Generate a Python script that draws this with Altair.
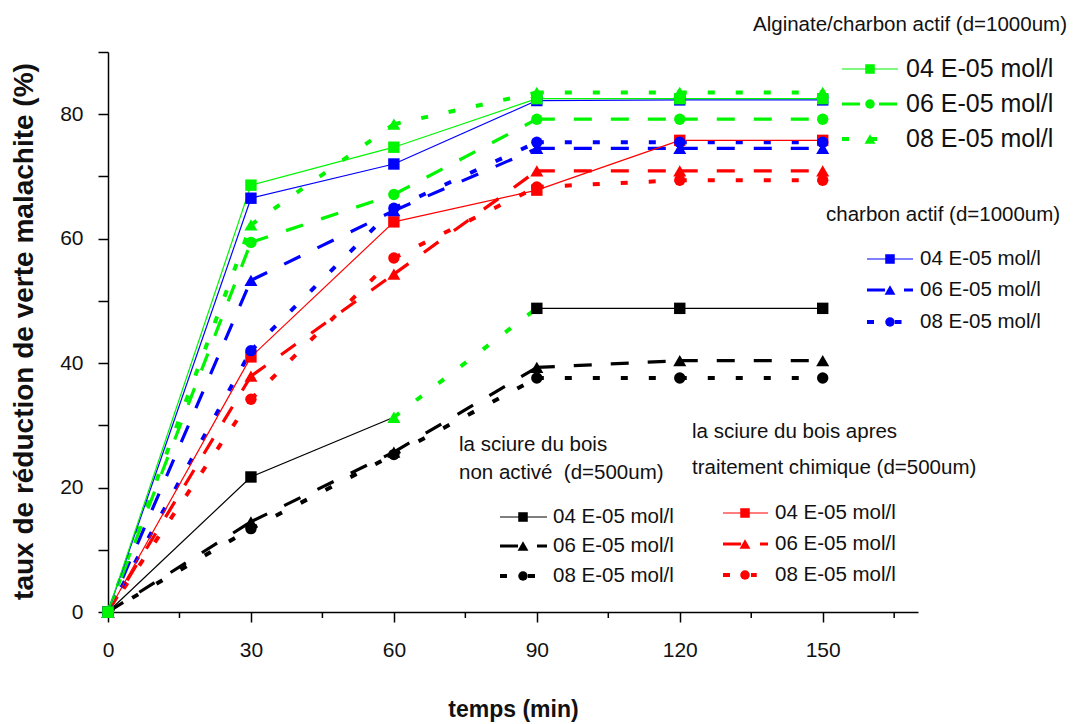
import altair as alt
import pandas as pd

# ---------------- data ----------------
time_min = [0, 30, 60, 90, 120, 150]

alginate_04 = [0, 68.6, 74.7, 82.5, 82.5, 82.5]
alginate_06 = [0, 59.4, 67.1, 79.2, 79.2, 79.2]
alginate_08 = [0, 62.2, 78.4, 83.5, 83.5, 83.5]

charbon_04 = [0, 66.5, 72.0, 82.2, 82.3, 82.3]
charbon_06 = [0, 53.3, 64.5, 74.5, 74.5, 74.5]
charbon_08 = [0, 42.0, 64.9, 75.5, 75.5, 75.5]

traite_04 = [0, 41.0, 62.7, 67.8, 75.8, 75.8]
traite_06 = [0, 37.9, 54.3, 70.9, 70.9, 70.9]
traite_08 = [0, 34.2, 56.9, 68.3, 69.4, 69.4]

nonactive_04 = [0, 21.7, 31.3, 48.8, 48.8, 48.8]
nonactive_06 = [0, 14.5, 25.7, 39.3, 40.4, 40.4]
nonactive_08 = [0, 13.4, 25.3, 37.6, 37.6, 37.6]

conc_labels = ["04 E-05 mol/l", "06 E-05 mol/l", "08 E-05 mol/l"]
x_major = [0, 30, 60, 90, 120, 150]
x_minor = [15, 45, 75, 105, 135, 165]
y_ticks = [0, 10, 20, 30, 40, 50, 60, 70, 80, 90]

# ---------------- styles ----------------
GREEN, BLUE, RED, BLACK = "#00f500", "#0000ff", "#ff0000", "#000000"
FONT = "Liberation Sans, Arial"
TXT = "#111111"
STYLES = {
    "solid": dict(strokeWidth=1.2),
    "dash": dict(strokeWidth=3.2, strokeDash=[18, 19]),
    "dot": dict(strokeWidth=4, strokeDash=[7, 21]),
}
MSIZE = {"square": 130, "circle": 130, "triangle-up": 170}

# drawing order: black, red, blue, green (green on top)
series = [
    ("nonactive_04", nonactive_04, BLACK, "solid", "square"),
    ("nonactive_06", nonactive_06, BLACK, "dash", "triangle-up"),
    ("nonactive_08", nonactive_08, BLACK, "dot", "circle"),
    ("traite_04", traite_04, RED, "solid", "square"),
    ("traite_06", traite_06, RED, "dash", "triangle-up"),
    ("traite_08", traite_08, RED, "dot", "circle"),
    ("charbon_04", charbon_04, BLUE, "solid", "square"),
    ("charbon_06", charbon_06, BLUE, "dash", "triangle-up"),
    ("charbon_08", charbon_08, BLUE, "dot", "circle"),
    ("alginate_04", alginate_04, GREEN, "solid", "square"),
    ("alginate_06", alginate_06, GREEN, "dash", "circle"),
    ("alginate_08", alginate_08, GREEN, "dot", "triangle-up"),
]
# quirk of the original figure: on the black 04 curve the 60 min point is a
# green triangle and the 60->90 min segment is drawn green dotted
seg_override = {("nonactive_04", 2): (GREEN, "dot")}
pt_override = {("nonactive_04", 2): (GREEN, "triangle-up")}

seg_rows, pt_rows = [], []
k = 0
for name, vals, col, sty, shp in series:
    for i in range(len(time_min) - 1):
        c, s = seg_override.get((name, i), (col, sty))
        for j in (i, i + 1):
            seg_rows.append(dict(t=time_min[j], v=vals[j], seg=f"{k:03d}", color=c, style=s))
        k += 1
    for i, (t, v) in enumerate(zip(time_min, vals)):
        c, s = pt_override.get((name, i), (col, shp))
        pt_rows.append(dict(t=t, v=v, color=c, shape=s, msize=MSIZE[s]))
seg_df = pd.DataFrame(seg_rows)
pt_df = pd.DataFrame(pt_rows)

W, H = 810, 560
xs = alt.Scale(domain=[0, 170], nice=False, zero=True)
ys = alt.Scale(domain=[0, 90], nice=False, zero=True)
# pixel scales for the hand-placed legends
pxs = alt.Scale(domain=[0, W], range=[0, W], nice=False, zero=False)
pys = alt.Scale(domain=[0, H], range=[0, H], nice=False, zero=False)

x_axis = alt.Axis(values=x_major, tickSize=10, tickWidth=1.5, tickColor="black",
                  domainColor="black", domainWidth=1.5, grid=False, labelFlush=False,
                  labelFont=FONT, labelFontSize=21, labelColor=TXT, labelPadding=17,
                  title="temps (min)", titleFont=FONT, titleFontSize=23,
                  titleFontWeight="bold", titleColor=TXT, titleX=405, titleY=97,
                  titleAlign="center", titleBaseline="middle")
y_axis = alt.Axis(values=y_ticks, tickSize=10, tickWidth=1.5, tickColor="black",
                  domainColor="black", domainWidth=1.5, grid=False, labelFlush=False,
                  labelExpr="datum.value % 20 === 0 ? datum.label : ''",
                  labelFont=FONT, labelFontSize=21, labelColor=TXT, labelPadding=15,
                  title="taux de réduction de verte malachite (%)", titleFont=FONT,
                  titleFontSize=28, titleFontWeight="bold", titleColor=TXT,
                  titleX=-84, titleY=279, titleAngle=270, titleAlign="center",
                  titleBaseline="middle")

layers = []
first = True
for sty in ["dot", "dash", "solid"]:
    d = seg_df[seg_df["style"] == sty]
    enc = dict(
        x=alt.X("t:Q", scale=xs, axis=x_axis if first else None),
        y=alt.Y("v:Q", scale=ys, axis=y_axis if first else None),
        detail="seg:N",
        color=alt.Color("color:N", scale=None),
    )
    layers.append(alt.Chart(d).mark_line(**STYLES[sty]).encode(**enc))
    first = False

layers.append(
    alt.Chart(pt_df).mark_point(filled=True, opacity=1, strokeWidth=0).encode(
        x=alt.X("t:Q", scale=xs, axis=None),
        y=alt.Y("v:Q", scale=ys, axis=None),
        shape=alt.Shape("shape:N", scale=None),
        color=alt.Color("color:N", scale=None),
        size=alt.Size("msize:Q", scale=None),
    )
)

# minor x ticks
minor_df = pd.DataFrame({"t": x_minor})
layers.append(
    alt.Chart(minor_df).mark_rule(color="black", strokeWidth=1.5).encode(
        x=alt.X("t:Q", scale=xs, axis=None),
        y=alt.value(H), y2=alt.value(H + 6),
    )
)

# ---------------- legends (pixel layout) ----------------
legend_blocks = [
    dict(color=GREEN, titles=["Alginate/charbon actif (d=1000um)"], tx=645, ty=[-27],
         ex=798, ey=[17, 52, 87], x1=734, x2=790, mx=762,
         shapes=["square", "circle", "triangle-up"], fs=25),
    dict(color=BLUE, titles=["charbon actif (d=1000um)"], tx=718, ty=[163],
         ex=812, ey=[207, 238, 270], x1=759, x2=805, mx=782,
         shapes=["square", "triangle-up", "circle"], fs=20.5),
    dict(color=BLACK, titles=["la sciure du bois", "non activé\u00a0 (d=500um)"], tx=351,
         ty=[393, 421], ex=445, ey=[465, 494, 524], x1=392, x2=439, mx=415,
         shapes=["square", "triangle-up", "circle"], fs=20.5),
    dict(color=RED, titles=["la sciure du bois apres", "traitement chimique (d=500um)"],
         tx=584, ty=[380, 416], ex=667, ey=[461, 492, 523], x1=615, x2=660, mx=637,
         shapes=["square", "triangle-up", "circle"], fs=20.5),
]
text_rows, rule_rows, lm_rows = [], [], []
for b in legend_blocks:
    for t, y in zip(b["titles"], b["ty"]):
        text_rows.append(dict(px=b["tx"], py=y, text=t, fs=20.5))
    for lab, y, sty, shp in zip(conc_labels, b["ey"], ["solid", "dash", "dot"], b["shapes"]):
        text_rows.append(dict(px=b["ex"], py=y, text=lab, fs=b["fs"]))
        x2 = b["x2"] if sty != "dot" else b["x1"] + 0.75 * (b["x2"] - b["x1"])
        rule_rows.append(dict(x1=b["x1"], x2=x2, py=y, color=b["color"], style=sty))
        lm_rows.append(dict(px=b["mx"], py=y, color=b["color"], shape=shp,
                            msize=MSIZE[shp] * 0.7))
text_df = pd.DataFrame(text_rows)
rule_df = pd.DataFrame(rule_rows)
lm_df = pd.DataFrame(lm_rows)

for sty in ["dot", "dash", "solid"]:
    d = rule_df[rule_df["style"] == sty]
    layers.append(
        alt.Chart(d).mark_rule(**STYLES[sty]).encode(
            x=alt.X("x1:Q", scale=pxs, axis=None), x2="x2:Q",
            y=alt.Y("py:Q", scale=pys, axis=None),
            color=alt.Color("color:N", scale=None),
        )
    )
layers.append(
    alt.Chart(lm_df).mark_point(filled=True, opacity=1, strokeWidth=0).encode(
        x=alt.X("px:Q", scale=pxs, axis=None),
        y=alt.Y("py:Q", scale=pys, axis=None),
        shape=alt.Shape("shape:N", scale=None),
        color=alt.Color("color:N", scale=None),
        size=alt.Size("msize:Q", scale=None),
    )
)
layers.append(
    alt.Chart(text_df).mark_text(align="left", baseline="middle", font=FONT, color=TXT).encode(
        x=alt.X("px:Q", scale=pxs, axis=None),
        y=alt.Y("py:Q", scale=pys, axis=None),
        text="text:N",
        size=alt.Size("fs:Q", scale=None),
    )
)

chart = alt.layer(*layers).resolve_scale(x="independent", y="independent").properties(
    width=W, height=H,
    autosize=alt.AutoSizeParams(type="none"),
    padding={"left": 100, "top": 44, "right": 150, "bottom": 110},
).configure_view(stroke=None)

chart.save("out.html", embed_options={"renderer": "svg", "actions": False})
